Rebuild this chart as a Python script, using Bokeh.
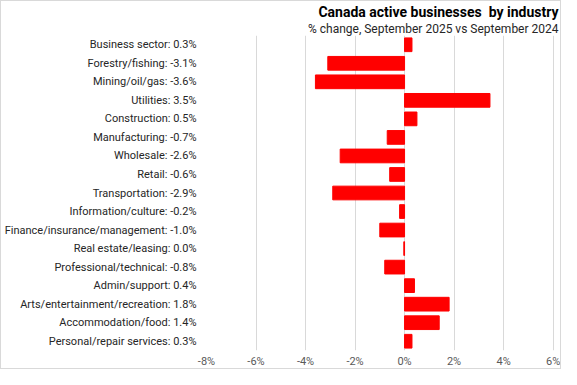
from bokeh.plotting import figure
from bokeh.models import FactorRange, Range1d, FixedTicker, PrintfTickFormatter, Title, ColumnDataSource
from bokeh.embed import file_html
from bokeh.resources import INLINE

categories = ["Business sector", "Forestry/fishing", "Mining/oil/gas", "Utilities",
              "Construction", "Manufacturing", "Wholesale", "Retail", "Transportation",
              "Information/culture", "Finance/insurance/management", "Real estate/leasing",
              "Professional/technical", "Admin/support", "Arts/entertainment/recreation",
              "Accommodation/food", "Personal/repair services"]
values = [0.3, -3.1, -3.6, 3.45, 0.5, -0.7, -2.6, -0.6, -2.9, -0.2, -1.0, -0.03,
          -0.8, 0.4, 1.8, 1.4, 0.3]
pct_text = ["0.3%", "-3.1%", "-3.6%", "3.5%", "0.5%", "-0.7%", "-2.6%", "-0.6%", "-2.9%",
            "-0.2%", "-1.0%", "0.0%", "-0.8%", "0.4%", "1.8%", "1.4%", "0.3%"]
x_ticks = [-8, -6, -4, -2, 0, 2, 4, 6]

labels = [f"{c}: {t}" for c, t in zip(categories, pct_text)]
src = ColumnDataSource(dict(label=labels, value=values))

p = figure(width=561, height=369, output_backend="svg", toolbar_location=None,
           y_range=FactorRange(factors=labels[::-1]), x_range=Range1d(-8, 6.38),
           min_border_left=203, min_border_right=0, min_border_top=0, min_border_bottom=17,
           styles={"border": "1px solid #d9d9d9"})
p.outline_line_color = None
p.background_fill_color = "white"

p.hbar(y="label", left=0, right="value", height=0.74, color="#FF0000", source=src)

p.xaxis.ticker = FixedTicker(ticks=x_ticks)
p.xaxis.formatter = PrintfTickFormatter(format="%d%%")
p.xaxis.axis_line_color = None
p.xaxis.major_tick_line_color = None
p.xaxis.minor_tick_line_color = None
p.xaxis.major_tick_out = 0
p.xaxis.major_tick_in = 0
p.xaxis.minor_tick_out = 0
p.xaxis.major_label_text_font = "Roboto"
p.xaxis.major_label_text_font_size = "11px"
p.xaxis.major_label_text_color = "#595959"
p.xaxis.major_label_standoff = 4

p.yaxis.axis_line_color = None
p.yaxis.major_tick_line_color = None
p.yaxis.minor_tick_line_color = None
p.yaxis.major_tick_out = 0
p.yaxis.major_tick_in = 0
p.yaxis.minor_tick_out = 0
p.yaxis.major_label_text_font = "Roboto"
p.yaxis.major_label_text_font_size = "11px"
p.yaxis.major_label_text_color = "#262626"
p.yaxis.major_label_standoff = 10

p.xgrid.grid_line_color = "#d9d9d9"
p.xgrid.ticker = FixedTicker(ticks=x_ticks)
p.ygrid.grid_line_color = None

p.title.text = "Canada active businesses\u00a0 by industry"
p.title.align = "right"
p.title.text_font = "Roboto"
p.title.text_font_style = "bold"
p.title.text_font_size = "14px"
p.title.text_color = "#000000"
p.title.standoff = 0
p.title.offset = 4

sub = Title(text="% change, September 2025 vs September 2024", align="right",
            text_font="Roboto", text_font_style="normal", text_font_size="12px",
            text_color="#262626", standoff=0, offset=4)
p.add_layout(sub, "above")

open("out.html", "w").write(file_html(p, INLINE))
